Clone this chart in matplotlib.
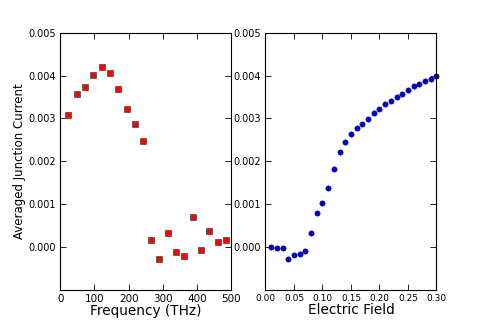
import matplotlib
matplotlib.use("Agg")
import matplotlib.pyplot as plt

freq = [24, 48, 73, 97, 121, 145, 169, 194, 218, 242, 266, 290, 315, 339, 363, 387, 411, 436, 460, 484]
cur_freq = [0.00307, 0.00357, 0.00374, 0.00402, 0.00420, 0.00405, 0.00368, 0.00322, 0.00288, 0.00247,
            0.00017, -0.00027, 0.00034, -0.00012, -0.00021, 0.00071, -0.00007, 0.00038, 0.00012, 0.00016]

field = [0.01, 0.02, 0.03, 0.04, 0.05, 0.06, 0.07, 0.08, 0.09, 0.10, 0.11, 0.12, 0.13, 0.14, 0.15,
         0.16, 0.17, 0.18, 0.19, 0.20, 0.21, 0.22, 0.23, 0.24, 0.25, 0.26, 0.27, 0.28, 0.29, 0.30]
cur_field = [0.0, -0.00002, -0.00002, -0.00028, -0.00019, -0.00016, -0.0001, 0.00032, 0.0008, 0.00104,
             0.00137, 0.00181, 0.00222, 0.00245, 0.00263, 0.00278, 0.00287, 0.00299, 0.00313, 0.00322,
             0.00333, 0.00341, 0.0035, 0.00358, 0.00367, 0.00375, 0.0038, 0.00387, 0.00393, 0.004]

yticks = [0.000, 0.001, 0.002, 0.003, 0.004, 0.005]
xticks_left = [0, 100, 200, 300, 400, 500]
xticks_right = [0.00, 0.05, 0.10, 0.15, 0.20, 0.25, 0.30]

fig, (ax1, ax2) = plt.subplots(1, 2, figsize=(4.85, 3.23), dpi=100)
fig.subplots_adjust(left=0.124, right=0.900, bottom=0.102, top=0.899, wspace=0.2)

ax1.plot(freq, cur_freq, 's', color='#ff0000', markeredgecolor='#555555', markeredgewidth=0.6,
         markersize=4.3, clip_on=False)
ax2.plot(field, cur_field, 'o', color='#0000dd', markeredgecolor='#000055', markeredgewidth=0.4,
         markersize=3.8, clip_on=False)

for ax in (ax1, ax2):
    ax.set_ylim(-0.001, 0.005)
    ax.set_yticks(yticks)
    ax.set_yticklabels(["%.3f" % v for v in yticks], fontsize=7)
    ax.tick_params(direction='in', top=True, right=True, length=4, width=0.6, pad=3)
    for s in ax.spines.values():
        s.set_linewidth(0.8)

ax1.set_xlim(0, 500)
ax1.set_xticks(xticks_left)
ax1.set_xticklabels([str(v) for v in xticks_left], fontsize=7.5)
ax2.set_xlim(0, 0.30)
ax2.set_xticks(xticks_right)
ax2.set_xticklabels(["%.2f" % v for v in xticks_right], fontsize=6.5)

ax1.set_xlabel("Frequency (THz)", fontsize=9.8, labelpad=0)
ax1.set_ylabel("Averaged Junction Current", fontsize=8.5, labelpad=2)
ax2.set_xlabel("Electric Field", fontsize=9.8, labelpad=0)

fig.savefig("out.png", dpi=100, facecolor='white')
